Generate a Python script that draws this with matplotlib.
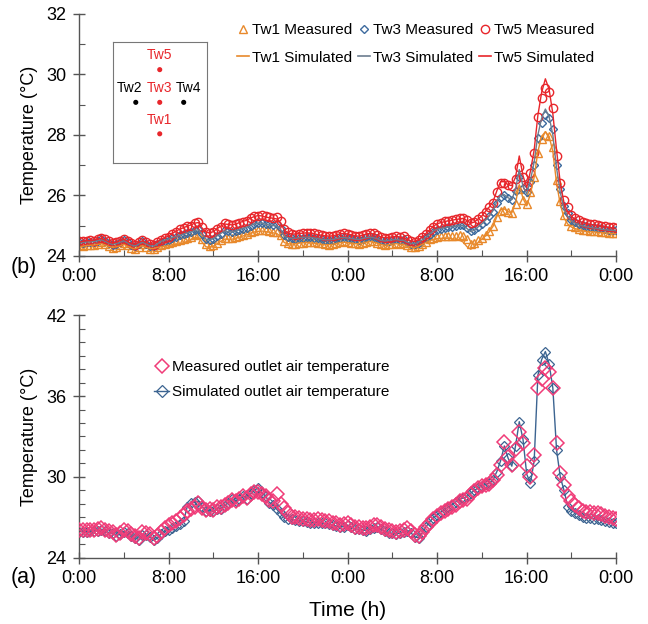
import numpy as np
import matplotlib
matplotlib.use("Agg")
import matplotlib.pyplot as plt
from matplotlib.lines import Line2D

plt.rcParams['font.family'] = ['Liberation Sans', 'DejaVu Sans']

# time axis: 20-min steps over 48 h
hours = np.arange(0, 48 + 1e-9, 1 / 3)

# ---- panel (b): water temperatures ----
tw1_meas = [24.35, 24.33, 24.35, 24.37, 24.35, 24.40, 24.45, 24.40, 24.33, 24.27, 24.30, 24.35,
            24.41, 24.35, 24.27, 24.21, 24.30, 24.38, 24.30, 24.23, 24.21, 24.30, 24.36, 24.40,
            24.42, 24.46, 24.50, 24.53, 24.56, 24.60, 24.63, 24.68, 24.72, 24.55, 24.38, 24.33,
            24.36, 24.44, 24.52, 24.60, 24.60, 24.59, 24.61, 24.65, 24.69, 24.72, 24.78, 24.82,
            24.84, 24.86, 24.84, 24.82, 24.80, 24.80, 24.70, 24.48, 24.42, 24.40, 24.40, 24.42,
            24.44, 24.46, 24.46, 24.45, 24.43, 24.41, 24.38, 24.37, 24.38, 24.41, 24.45, 24.48,
            24.46, 24.44, 24.41, 24.40, 24.43, 24.47, 24.50, 24.48, 24.44, 24.38, 24.36, 24.38,
            24.40, 24.42, 24.40, 24.42, 24.35, 24.30, 24.29, 24.33, 24.40, 24.47, 24.54, 24.60,
            24.62, 24.64, 24.65, 24.66, 24.66, 24.67, 24.68, 24.66, 24.55, 24.38, 24.42, 24.52,
            24.60, 24.68, 24.82, 24.98, 25.28, 25.48, 25.52, 25.45, 25.40, 25.70, 26.20, 25.85,
            25.70, 26.10, 26.60, 27.40, 27.85, 28.00, 27.95, 27.60, 26.50, 25.80, 25.35, 25.15,
            25.00, 24.94, 24.90, 24.87, 24.85, 24.83, 24.82, 24.81, 24.80, 24.78, 24.77, 24.76,
            24.75]
tw1_sim = [24.30, 24.32, 24.34, 24.35, 24.36, 24.38, 24.40, 24.36, 24.31, 24.28, 24.30, 24.33,
           24.38, 24.32, 24.26, 24.23, 24.28, 24.34, 24.28, 24.24, 24.24, 24.28, 24.30, 24.32,
           24.34, 24.36, 24.38, 24.40, 24.43, 24.48, 24.54, 24.60, 24.62, 24.45, 24.30, 24.28,
           24.32, 24.40, 24.48, 24.55, 24.55, 24.55, 24.58, 24.62, 24.66, 24.70, 24.75, 24.79,
           24.81, 24.82, 24.80, 24.78, 24.76, 24.74, 24.64, 24.44, 24.40, 24.39, 24.40, 24.42,
           24.43, 24.44, 24.43, 24.42, 24.40, 24.38, 24.37, 24.37, 24.38, 24.41, 24.44, 24.45,
           24.44, 24.42, 24.40, 24.40, 24.42, 24.45, 24.47, 24.45, 24.42, 24.37, 24.35, 24.37,
           24.39, 24.40, 24.38, 24.38, 24.32, 24.29, 24.28, 24.32, 24.38, 24.44, 24.50, 24.55,
           24.57, 24.58, 24.58, 24.58, 24.56, 24.55, 24.52, 24.45, 24.30, 24.22, 24.30, 24.45,
           24.56, 24.66, 24.80, 24.98, 25.30, 25.52, 25.55, 25.46, 25.42, 25.75, 26.35, 25.90,
           25.65, 26.05, 26.60, 27.45, 27.95, 28.10, 27.95, 27.45, 26.40, 25.70, 25.25, 25.05,
           24.95, 24.90, 24.86, 24.83, 24.81, 24.80, 24.79, 24.78, 24.77, 24.76, 24.75, 24.74,
           24.73]
tw3_meas = [24.45, 24.43, 24.45, 24.47, 24.45, 24.50, 24.55, 24.50, 24.43, 24.37, 24.40, 24.45,
            24.51, 24.45, 24.37, 24.31, 24.40, 24.48, 24.40, 24.33, 24.31, 24.40, 24.47, 24.50,
            24.53, 24.58, 24.63, 24.68, 24.72, 24.76, 24.80, 24.86, 24.90, 24.72, 24.56, 24.52,
            24.55, 24.64, 24.72, 24.84, 24.82, 24.80, 24.82, 24.86, 24.90, 24.93, 25.00, 25.05,
            25.08, 25.10, 25.06, 25.04, 25.02, 25.04, 24.92, 24.70, 24.62, 24.58, 24.56, 24.58,
            24.60, 24.62, 24.62, 24.60, 24.58, 24.56, 24.53, 24.52, 24.52, 24.56, 24.60, 24.63,
            24.60, 24.58, 24.55, 24.53, 24.57, 24.61, 24.64, 24.62, 24.58, 24.51, 24.48, 24.50,
            24.52, 24.54, 24.52, 24.54, 24.46, 24.40, 24.39, 24.44, 24.52, 24.60, 24.70, 24.80,
            24.86, 24.90, 24.93, 24.95, 24.96, 24.99, 25.01, 25.02, 24.93, 24.82, 24.86, 24.96,
            25.05, 25.15, 25.30, 25.45, 25.75, 25.95, 26.00, 25.92, 25.85, 26.15, 26.60, 26.25,
            26.10, 26.45, 27.00, 27.90, 28.40, 28.65, 28.55, 28.20, 27.00, 26.20, 25.65, 25.40,
            25.20, 25.12, 25.06, 25.02, 24.98, 24.96, 24.95, 24.93, 24.91, 24.89, 24.87, 24.85,
            24.84]
tw3_sim = [24.42, 24.44, 24.46, 24.46, 24.47, 24.50, 24.53, 24.48, 24.42, 24.38, 24.41, 24.45,
           24.50, 24.43, 24.36, 24.33, 24.39, 24.45, 24.39, 24.33, 24.32, 24.40, 24.48, 24.52,
           24.56, 24.60, 24.64, 24.68, 24.72, 24.76, 24.79, 24.84, 24.86, 24.70, 24.55, 24.53,
           24.57, 24.66, 24.74, 24.82, 24.80, 24.79, 24.82, 24.87, 24.91, 24.95, 25.01, 25.06,
           25.08, 25.08, 25.04, 25.02, 25.00, 24.98, 24.88, 24.66, 24.60, 24.58, 24.58, 24.60,
           24.61, 24.62, 24.61, 24.59, 24.57, 24.55, 24.53, 24.53, 24.54, 24.57, 24.60, 24.61,
           24.59, 24.57, 24.55, 24.54, 24.57, 24.60, 24.62, 24.60, 24.56, 24.51, 24.49, 24.51,
           24.53, 24.54, 24.52, 24.51, 24.45, 24.41, 24.40, 24.45, 24.53, 24.62, 24.72, 24.82,
           24.88, 24.91, 24.93, 24.95, 24.96, 24.98, 25.00, 25.00, 24.90, 24.80, 24.85, 24.96,
           25.06, 25.18, 25.32, 25.50, 25.80, 26.00, 26.02, 25.92, 25.86, 26.20, 26.85, 26.30,
           26.05, 26.50, 27.10, 28.00, 28.55, 28.85, 28.60, 28.00, 26.90, 26.10, 25.55, 25.30,
           25.15, 25.08, 25.03, 24.99, 24.96, 24.94, 24.92, 24.90, 24.88, 24.86, 24.85, 24.84,
           24.83]
tw5_meas = [24.50, 24.48, 24.50, 24.52, 24.50, 24.55, 24.60, 24.55, 24.48, 24.42, 24.45, 24.50,
            24.56, 24.50, 24.42, 24.36, 24.45, 24.53, 24.45, 24.38, 24.36, 24.45, 24.53, 24.58,
            24.63, 24.72, 24.80, 24.88, 24.92, 24.97, 25.00, 25.08, 25.12, 24.95, 24.80, 24.76,
            24.78, 24.88, 24.95, 25.08, 25.05, 25.02, 25.04, 25.10, 25.12, 25.15, 25.25, 25.30,
            25.32, 25.35, 25.30, 25.28, 25.25, 25.28, 25.15, 24.90, 24.78, 24.72, 24.70, 24.72,
            24.74, 24.76, 24.76, 24.74, 24.72, 24.70, 24.66, 24.64, 24.64, 24.68, 24.72, 24.76,
            24.72, 24.70, 24.66, 24.64, 24.68, 24.72, 24.76, 24.74, 24.70, 24.62, 24.58, 24.60,
            24.62, 24.64, 24.62, 24.64, 24.55, 24.48, 24.47, 24.52, 24.62, 24.72, 24.84, 24.96,
            25.05, 25.10, 25.14, 25.16, 25.18, 25.22, 25.24, 25.26, 25.18, 25.09, 25.12, 25.22,
            25.30, 25.45, 25.60, 25.75, 26.10, 26.40, 26.42, 26.35, 26.30, 26.55, 26.95, 26.60,
            26.30, 26.75, 27.40, 28.60, 29.20, 29.55, 29.40, 28.90, 27.30, 26.40, 25.85, 25.60,
            25.35, 25.25, 25.18, 25.12, 25.08, 25.05, 25.04, 25.02, 25.00, 24.98, 24.96, 24.94,
            24.92]
tw5_sim = [24.45, 24.48, 24.50, 24.50, 24.52, 24.55, 24.58, 24.52, 24.46, 24.42, 24.45, 24.50,
           24.55, 24.48, 24.40, 24.38, 24.44, 24.50, 24.44, 24.38, 24.38, 24.46, 24.55, 24.60,
           24.66, 24.74, 24.82, 24.88, 24.93, 24.98, 25.02, 25.08, 25.10, 24.92, 24.78, 24.76,
           24.80, 24.90, 24.98, 25.05, 25.04, 25.02, 25.05, 25.10, 25.14, 25.18, 25.25, 25.30,
           25.33, 25.32, 25.28, 25.26, 25.24, 25.22, 25.10, 24.85, 24.76, 24.72, 24.72, 24.74,
           24.75, 24.76, 24.75, 24.73, 24.70, 24.68, 24.66, 24.65, 24.66, 24.69, 24.73, 24.74,
           24.72, 24.69, 24.66, 24.65, 24.68, 24.72, 24.74, 24.72, 24.68, 24.62, 24.60, 24.61,
           24.63, 24.64, 24.62, 24.60, 24.54, 24.49, 24.48, 24.53, 24.62, 24.74, 24.86, 24.98,
           25.06, 25.10, 25.13, 25.16, 25.18, 25.20, 25.22, 25.24, 25.16, 25.08, 25.12, 25.22,
           25.32, 25.48, 25.62, 25.80, 26.15, 26.45, 26.45, 26.35, 26.32, 26.60, 27.30, 26.65,
           26.25, 26.80, 27.50, 28.65, 29.40, 29.85, 29.50, 28.70, 27.50, 26.40, 25.75, 25.45,
           25.30, 25.20, 25.14, 25.10, 25.06, 25.04, 25.02, 25.00, 24.98, 24.96, 24.94, 24.92,
           24.90]

# ---- panel (a): outlet air temperature ----
outlet_meas = [26.10, 26.10, 26.08, 26.08, 26.10, 26.15, 26.20, 26.08, 25.98, 25.95, 25.72, 25.85,
               26.10, 26.00, 25.80, 25.65, 25.45, 25.90, 25.85, 25.75, 25.45, 25.60, 25.95, 26.20,
               26.40, 26.55, 26.75, 26.95, 27.20, 27.45, 27.65, 27.80, 28.05, 27.70, 27.55, 27.60,
               27.55, 27.80, 27.75, 27.90, 28.05, 28.30, 28.20, 28.35, 28.55, 28.45, 28.70, 28.85,
               28.90, 28.70, 28.55, 28.30, 28.20, 28.70, 28.00, 27.70, 27.30, 27.05, 27.00, 26.95,
               26.90, 26.85, 26.80, 26.80, 26.85, 26.80, 26.75, 26.70, 26.60, 26.55, 26.45, 26.50,
               26.60, 26.45, 26.30, 26.30, 26.25, 26.20, 26.30, 26.40, 26.45, 26.30, 26.15, 26.05,
               26.00, 25.95, 26.00, 26.10, 26.20, 26.00, 25.70, 25.65, 25.95, 26.30, 26.60, 26.85,
               27.10, 27.30, 27.45, 27.60, 27.75, 27.95, 28.20, 28.30, 28.40, 28.70, 28.95, 29.15,
               29.30, 29.40, 29.50, 29.80, 30.15, 30.90, 32.60, 31.50, 30.90, 32.10, 33.30, 32.50,
               30.80, 30.00, 31.60, 36.60, 37.30, 38.10, 37.80, 36.60, 32.50, 30.30, 29.40, 28.55,
               28.20, 27.90, 27.70, 27.50, 27.40, 27.40, 27.35, 27.30, 27.25, 27.10, 27.05, 26.95,
               26.85]
outlet_sim = [25.95, 25.95, 25.95, 25.98, 26.00, 26.02, 26.05, 25.98, 25.88, 25.82, 25.65, 25.75,
              25.95, 25.85, 25.65, 25.50, 25.35, 25.70, 25.70, 25.55, 25.30, 25.45, 25.80, 26.00,
              26.10, 26.20, 26.35, 26.50, 26.70, 27.80, 28.10, 28.15, 28.20, 27.80, 27.50, 27.50,
              27.45, 27.65, 27.65, 27.85, 28.10, 28.35, 28.20, 28.40, 28.60, 28.40, 28.75, 29.00,
              29.20, 28.80, 28.60, 28.10, 27.95, 27.60, 27.30, 27.00, 26.90, 26.85, 26.80, 26.75,
              26.72, 26.68, 26.62, 26.60, 26.62, 26.58, 26.55, 26.50, 26.42, 26.36, 26.28, 26.32,
              26.40, 26.28, 26.15, 26.12, 26.08, 26.02, 26.12, 26.22, 26.28, 26.12, 25.98, 25.88,
              25.82, 25.78, 25.82, 25.92, 26.02, 25.85, 25.55, 25.50, 25.85, 26.30, 26.70, 26.95,
              27.20, 27.40, 27.60, 27.75, 27.95, 28.15, 28.35, 28.45, 28.55, 28.80, 29.00, 29.20,
              29.35, 29.45, 29.55, 29.80, 30.40, 31.20, 32.30, 31.40, 30.80, 32.30, 34.10, 32.80,
              30.20, 29.55, 31.20, 37.55, 38.70, 39.30, 38.40, 36.60, 32.00, 30.00, 29.00, 27.80,
              27.50, 27.35, 27.20, 27.05, 26.95, 26.95, 26.90, 26.85, 26.80, 26.70, 26.65, 26.60,
              26.55]

tick_hours = [0, 8, 16, 24, 32, 40, 48]
tick_labels = ["0:00", "8:00", "16:00", "0:00", "8:00", "16:00", "0:00"]

# sensor layout sketch (inset)
sensor_names = ["Tw5", "Tw2", "Tw3", "Tw4", "Tw1"]
sensor_x = [0.5, 0.245, 0.5, 0.755, 0.5]
sensor_y = [0.77, 0.50, 0.50, 0.50, 0.24]
sensor_colors = ["#e8262b", "black", "#e8262b", "black", "#e8262b"]
label_x = [0.5, 0.18, 0.5, 0.81, 0.5]
label_y = [0.89, 0.62, 0.62, 0.62, 0.35]

c_tw1 = "#e8892b"
c_tw3 = "#3d6a9e"
c_tw3_line = "#6c7d8f"
c_tw5 = "#e8262b"
c_meas = "#f03c78"
c_sim = "#3c6491"
axis_col = "#555555"

fig = plt.figure(figsize=(6.48, 6.24), dpi=100)
ax_b = fig.add_axes([0.122, 0.590, 0.829, 0.388])
ax_a = fig.add_axes([0.122, 0.106, 0.829, 0.389])


def style_axis(ax, ymin, ymax, ystep):
    ax.set_xlim(0, 48)
    ax.set_ylim(ymin, ymax)
    ax.set_xticks(tick_hours)
    ax.set_xticklabels(tick_labels)
    ax.set_xticks(np.arange(0, 49, 4), minor=True)
    ax.set_yticks(np.arange(ymin, ymax + 0.1, ystep))
    ax.set_yticks(np.arange(ymin, ymax + 0.1, 1), minor=True)
    for s in ["top", "right"]:
        ax.spines[s].set_visible(False)
    for s in ["left", "bottom"]:
        ax.spines[s].set_color(axis_col)
        ax.spines[s].set_linewidth(1.0)
    ax.tick_params(which="major", direction="inout", length=8, width=1.0,
                   color=axis_col, labelsize=13, pad=5)
    ax.tick_params(which="minor", direction="in", length=4, width=0.8, color=axis_col)
    ax.set_ylabel("Temperature (°C)", fontsize=13, labelpad=6)


# panel (b)
ax_b.plot(hours, tw1_meas, ls="none", marker="^", ms=5.5, mfc="none", mec=c_tw1, mew=1.0)
ax_b.plot(hours, tw3_meas, ls="none", marker="D", ms=4.2, mfc="none", mec=c_tw3, mew=1.0)
ax_b.plot(hours, tw5_meas, ls="none", marker="o", ms=6, mfc="none", mec=c_tw5, mew=1.0)
ax_b.plot(hours, tw1_sim, color=c_tw1, lw=1.0)
ax_b.plot(hours, tw3_sim, color=c_tw3_line, lw=1.0)
ax_b.plot(hours, tw5_sim, color=c_tw5, lw=1.0)
style_axis(ax_b, 24, 32, 2)

h_b = [Line2D([], [], ls="none", marker="^", ms=5.5, mfc="none", mec=c_tw1, mew=1.0),
       Line2D([], [], color=c_tw1, lw=1.2),
       Line2D([], [], ls="none", marker="D", ms=4.2, mfc="none", mec=c_tw3, mew=1.0),
       Line2D([], [], color=c_tw3_line, lw=1.2),
       Line2D([], [], ls="none", marker="o", ms=6, mfc="none", mec=c_tw5, mew=1.0),
       Line2D([], [], color=c_tw5, lw=1.2)]
l_b = ["Tw1 Measured", "Tw1 Simulated", "Tw3 Measured", "Tw3 Simulated",
       "Tw5 Measured", "Tw5 Simulated"]
ax_b.legend(h_b, l_b, ncol=3, loc="upper left", bbox_to_anchor=(0.268, 1.017), frameon=False,
            fontsize=11, handlelength=0.8, handletextpad=0.2, columnspacing=0.35,
            labelspacing=0.88)

fig.text(0.016, 0.572, "(b)", fontsize=15.5, va="center")

# inset sketch of sensor positions
ax_in = fig.add_axes([0.174, 0.739, 0.145, 0.194])
ax_in.set_xlim(0, 1)
ax_in.set_ylim(0, 1)
ax_in.set_xticks([])
ax_in.set_yticks([])
for s in ax_in.spines.values():
    s.set_color("#777777")
    s.set_linewidth(0.8)
ax_in.scatter(sensor_x, sensor_y, s=7, c=sensor_colors, zorder=3)
for name, lx, ly, col in zip(sensor_names, label_x, label_y, sensor_colors):
    ax_in.text(lx, ly, name, ha="center", va="center", fontsize=10, color=col)

# panel (a)
ax_a.plot(hours, outlet_sim, color=c_sim, lw=1.0, marker="D", ms=5.5, mfc="none",
          mec=c_sim, mew=0.9, zorder=2)
ax_a.plot(hours, outlet_meas, ls="none", marker="D", ms=7, mfc="none", mec=c_meas,
          mew=1.1, zorder=3)
style_axis(ax_a, 24, 42, 6)
ax_a.set_xlabel("Time (h)", fontsize=15, labelpad=10)

h_a = [Line2D([], [], ls="none", marker="D", ms=7, mfc="none", mec=c_meas, mew=1.1),
       Line2D([], [], color=c_sim, lw=1.0, marker="D", ms=6, mfc="none", mec=c_sim, mew=0.9)]
l_a = ["Measured outlet air temperature", "Simulated outlet air temperature"]
ax_a.legend(h_a, l_a, loc="upper left", bbox_to_anchor=(0.114, 0.872), frameon=False,
            fontsize=11, handlelength=1.0, handletextpad=0.2, labelspacing=0.75)

fig.text(0.016, 0.075, "(a)", fontsize=15.5, va="center")

fig.savefig("out.png", dpi=100)
